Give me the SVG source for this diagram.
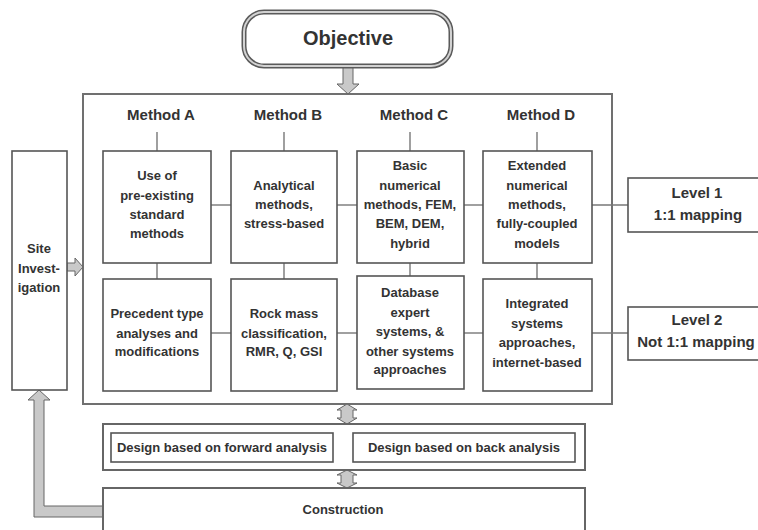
<svg xmlns="http://www.w3.org/2000/svg" width="758" height="530" viewBox="0 0 758 530">
<style>
  text { font-family: "Liberation Sans", Arial, sans-serif; font-weight: bold; fill: #333; text-anchor: middle; }
  .t { font-size: 13px; }
  .m { font-size: 15px; }
  .lv { font-size: 15px; }
  .box { fill: #fff; stroke: #555; stroke-width: 1.6; }
  .frame { fill: #fff; stroke: #707070; stroke-width: 2; }
  .conn { stroke: #777; stroke-width: 1.4; fill: none; }
  .blk { fill: #c9c9c9; stroke: #666; stroke-width: 1; stroke-linejoin: miter; }
</style>
<rect width="758" height="530" fill="#fff"/>

<g id="main-frame"><rect class="frame" x="83" y="94" width="529" height="310"/></g>

<g id="connectors">
  <line class="conn" x1="157" y1="132" x2="157" y2="151"/>
  <line class="conn" x1="284" y1="132" x2="284" y2="151"/>
  <line class="conn" x1="410" y1="132" x2="410" y2="151"/>
  <line class="conn" x1="537" y1="132" x2="537" y2="151"/>
  <line class="conn" x1="157" y1="263" x2="157" y2="279"/>
  <line class="conn" x1="284" y1="263" x2="284" y2="279"/>
  <line class="conn" x1="410" y1="263" x2="410" y2="276"/>
  <line class="conn" x1="537" y1="263" x2="537" y2="279"/>
  <line class="conn" x1="211" y1="205" x2="231" y2="205"/>
  <line class="conn" x1="337" y1="205" x2="357" y2="205"/>
  <line class="conn" x1="464" y1="205" x2="483" y2="205"/>
  <line class="conn" x1="592" y1="205" x2="628" y2="205"/>
  <line class="conn" x1="211" y1="333" x2="231" y2="333"/>
  <line class="conn" x1="337" y1="333" x2="357" y2="333"/>
  <line class="conn" x1="464" y1="333" x2="483" y2="333"/>
  <line class="conn" x1="592" y1="333" x2="628" y2="333"/>
  <polygon class="blk" points="343,67 353,67 353,84 359,84 348,94 337,84 343,84"/>
  <polygon class="blk" points="67,263 75,263 75,258 83,267 75,276 75,271 67,271"/>
  <polygon class="blk" points="347,404 357,410 353,410 353,418 357,418 347,424 337,418 341,418 341,410 337,410"/>
  <polygon class="blk" points="347,470 357,475 353,475 353,483 357,483 347,488 337,483 341,483 341,475 337,475"/>
  <polygon class="blk" points="333,447 339,437 339,442 347,442 347,437 353,447 347,457 347,452 339,452 339,457"/>
  <polygon class="blk" points="103,506 44,506 44,400 50,400 39,390 28,400 34,400 34,517 103,517"/>
</g>

<g id="objective">
  <rect x="244" y="12" width="207" height="54" rx="20" fill="#fff" stroke="#5a5a5a" stroke-width="5"/>
  <rect x="244" y="12" width="207" height="54" rx="20" fill="none" stroke="#d2d2d2" stroke-width="2"/>
  <text x="348" y="45" style="font-size:20px">Objective</text>
</g>

<g id="method-labels">
  <text class="m" x="161" y="120">Method A</text>
  <text class="m" x="288" y="120">Method B</text>
  <text class="m" x="414" y="120">Method C</text>
  <text class="m" x="541" y="120">Method D</text>
</g>

<g id="a1"><rect class="box" x="103" y="151" width="108" height="112"/>
  <text class="t" x="157" y="180">Use of</text><text class="t" x="157" y="200">pre-existing</text><text class="t" x="157" y="219">standard</text><text class="t" x="157" y="238">methods</text></g>
<g id="b1"><rect class="box" x="231" y="151" width="106" height="112"/>
  <text class="t" x="284" y="190">Analytical</text><text class="t" x="284" y="209">methods,</text><text class="t" x="284" y="228">stress-based</text></g>
<g id="c1"><rect class="box" x="357" y="151" width="107" height="112"/>
  <text class="t" x="410" y="170">Basic</text><text class="t" x="410" y="190">numerical</text><text class="t" x="410" y="209">methods, FEM,</text><text class="t" x="410" y="228">BEM, DEM,</text><text class="t" x="410" y="248">hybrid</text></g>
<g id="d1"><rect class="box" x="483" y="151" width="109" height="112"/>
  <text class="t" x="537" y="170">Extended</text><text class="t" x="537" y="190">numerical</text><text class="t" x="537" y="209">methods,</text><text class="t" x="537" y="228">fully-coupled</text><text class="t" x="537" y="248">models</text></g>

<g id="a2"><rect class="box" x="103" y="279" width="108" height="112"/>
  <text class="t" x="157" y="318">Precedent type</text><text class="t" x="157" y="338">analyses and</text><text class="t" x="157" y="356">modifications</text></g>
<g id="b2"><rect class="box" x="231" y="279" width="106" height="112"/>
  <text class="t" x="284" y="318">Rock mass</text><text class="t" x="284" y="338">classification,</text><text class="t" x="284" y="356">RMR, Q, GSI</text></g>
<g id="c2"><rect class="box" x="357" y="276" width="107" height="113"/>
  <text class="t" x="410" y="297">Database</text><text class="t" x="410" y="317">expert</text><text class="t" x="410" y="336">systems, &amp;</text><text class="t" x="410" y="356">other systems</text><text class="t" x="410" y="374">approaches</text></g>
<g id="d2"><rect class="box" x="483" y="279" width="109" height="112"/>
  <text class="t" x="537" y="308">Integrated</text><text class="t" x="537" y="328">systems</text><text class="t" x="537" y="347">approaches,</text><text class="t" x="537" y="367">internet-based</text></g>

<g id="level1"><rect class="box" x="628" y="178" width="135" height="54"/>
  <text class="lv" x="697" y="198">Level 1</text><text class="lv" x="698" y="220">1:1 mapping</text></g>
<g id="level2"><rect class="box" x="628" y="307" width="135" height="53"/>
  <text class="lv" x="697" y="325">Level 2</text><text class="lv" x="696" y="347">Not 1:1 mapping</text></g>

<g id="site"><rect class="box" x="12" y="151" width="55" height="239"/>
  <text class="t" x="39" y="253">Site</text><text class="t" x="39" y="273">Invest-</text><text class="t" x="39" y="292">igation</text></g>

<g id="design"><rect class="frame" x="103" y="424" width="482" height="46" style="stroke:#666"/>
  <rect class="box" x="111" y="433" width="222" height="29"/>
  <text class="t" x="222" y="452">Design based on forward analysis</text>
  <rect class="box" x="353" y="433" width="222" height="29"/>
  <text class="t" x="464" y="452">Design based on back analysis</text></g>

<g id="construction"><rect class="frame" x="103" y="488" width="482" height="50" style="stroke:#666"/>
  <text class="t" x="343" y="514">Construction</text></g>
</svg>
